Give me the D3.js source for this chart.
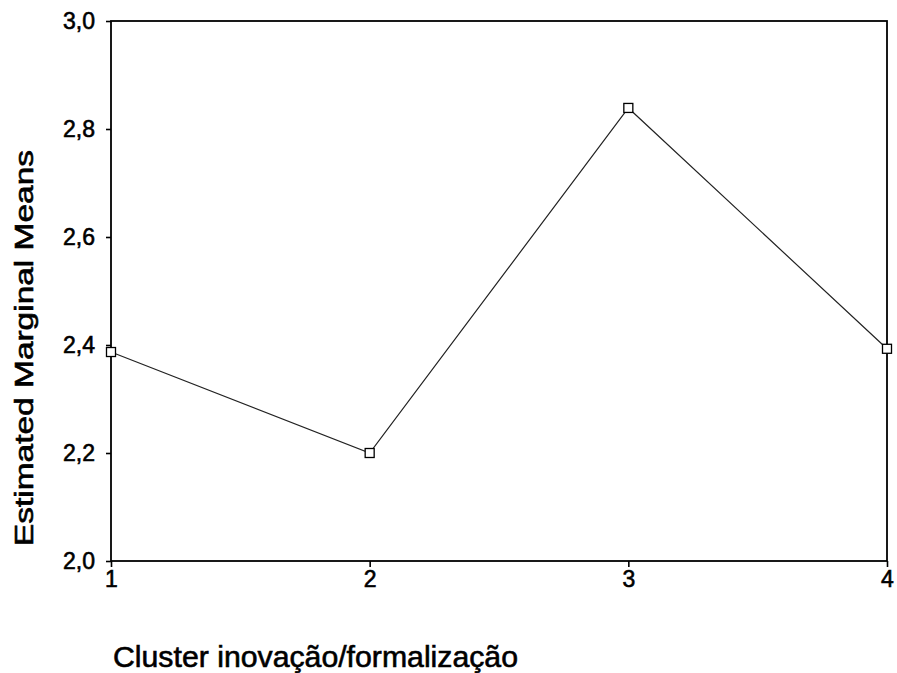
<!DOCTYPE html>
<html>
<head>
<meta charset="utf-8">
<script src="https://cdn.jsdelivr.net/npm/d3@7"></script>
<style>
body { margin: 0; background: #fff; }
text { font-family: "Liberation Sans", Arial, sans-serif; }
</style>
</head>
<body>
<svg id="graphique" width="897" height="673"></svg>
<script>
var clusters = [1, 2, 3, 4];
var means = [2.387, 2.2, 2.839, 2.393];
var yTicks = [2.0, 2.2, 2.4, 2.6, 2.8, 3.0];

var WIDTH = 897, HEIGHT = 673;
var MARGINS = { top: 21, right: 10, bottom: 112, left: 111 };

var svg = d3.select("#graphique");

var xScale = d3.scaleLinear().domain([1, 4]).range([MARGINS.left, WIDTH - MARGINS.right]);
var yScale = d3.scaleLinear().domain([2, 3]).range([HEIGHT - MARGINS.bottom, MARGINS.top]);

// cadre
svg.append("rect")
	.attr("x", MARGINS.left)
	.attr("y", MARGINS.top)
	.attr("width", WIDTH - MARGINS.right - MARGINS.left)
	.attr("height", HEIGHT - MARGINS.bottom - MARGINS.top)
	.attr("fill", "none")
	.attr("stroke", "#000")
	.attr("stroke-width", 1.8);

// axes
var fmt = function(d){ return d3.format(".1f")(d).replace(".", ","); };

var xAxis = d3.axisBottom(xScale).tickValues(clusters).tickSize(6).tickPadding(4).tickFormat(d3.format("d"));
var yAxis = d3.axisLeft(yScale).tickValues(yTicks).tickSize(5).tickPadding(11).tickFormat(fmt);

var gx = svg.append("g")
	.attr("transform", "translate(0," + (HEIGHT - MARGINS.bottom) + ")")
	.call(xAxis);
var gy = svg.append("g")
	.attr("transform", "translate(" + MARGINS.left + ",0)")
	.call(yAxis);

[gx, gy].forEach(function(g){
	g.select(".domain").remove();
	g.selectAll(".tick line").attr("stroke", "#000").attr("stroke-width", 1.6);
	g.selectAll(".tick text")
		.attr("font-size", 23)
		.attr("fill", "#000")
		.attr("stroke", "#000")
		.attr("stroke-width", 0.6);
});

// ligne
var line = d3.line()
	.x(function(d, i){ return xScale(clusters[i]); })
	.y(function(d){ return yScale(d); });

svg.append("path")
	.attr("d", line(means))
	.attr("fill", "none")
	.attr("stroke", "#222")
	.attr("stroke-width", 1.2);

svg.selectAll(".pt")
	.data(means)
	.enter().append("rect")
	.attr("class", "pt")
	.attr("x", function(d, i){ return xScale(clusters[i]) - 4.5; })
	.attr("y", function(d){ return yScale(d) - 4.5; })
	.attr("width", 9)
	.attr("height", 9)
	.attr("fill", "#fff")
	.attr("stroke", "#000")
	.attr("stroke-width", 1.3);

// titres
svg.append("text")
	.attr("x", 113)
	.attr("y", 667)
	.attr("font-size", 30)
	.attr("fill", "#000")
	.attr("stroke", "#000")
	.attr("stroke-width", 0.6)
	.attr("textLength", 405)
	.attr("lengthAdjust", "spacingAndGlyphs")
	.text("Cluster inovação/formalização");

svg.append("text")
	.attr("transform", "translate(33,348) rotate(-90)")
	.attr("text-anchor", "middle")
	.attr("font-size", 25)
	.attr("fill", "#000")
	.attr("stroke", "#000")
	.attr("stroke-width", 0.6)
	.attr("textLength", 396)
	.attr("lengthAdjust", "spacingAndGlyphs")
	.text("Estimated Marginal Means");
</script>
</body>
</html>
